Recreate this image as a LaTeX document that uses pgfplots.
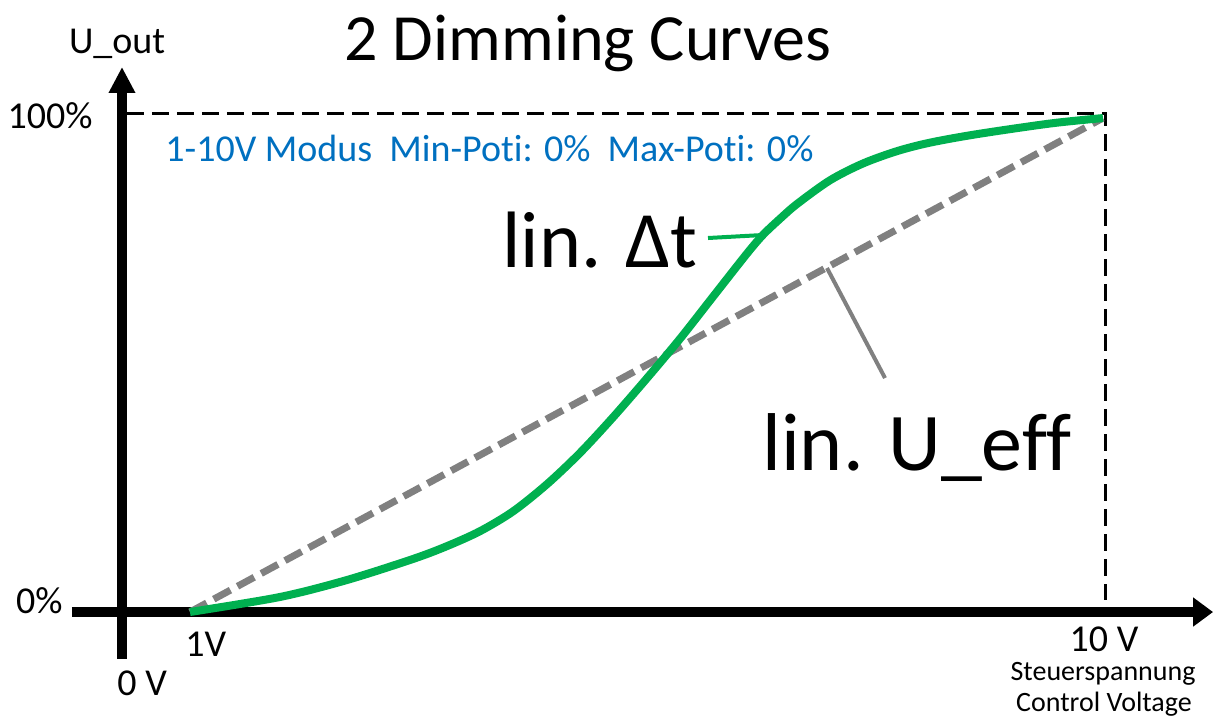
\documentclass[border=0pt]{standalone}
\usepackage{fontspec}
\setmainfont{Carlito}[Ligatures=NoCommon]
\usepackage{pgfplots}
\pgfplotsset{compat=1.18}
\usetikzlibrary{arrows.meta}
\definecolor{dimgreen}{HTML}{00B050}
\definecolor{dimgray}{HTML}{808080}
\definecolor{dimblue}{HTML}{0070C0}
\tikzset{lbl/.style={inner sep=0pt, font=\fontsize{19pt}{22pt}\selectfont}}

\begin{document}
\begin{tikzpicture}
\begin{axis}[
    hide axis,
    scale only axis,
    width=607pt, height=359pt,
    xmin=-0.873, xmax=11.095,
    ymin=-21.46, ymax=123.9,
    clip=false,
]
% axis arrows and the 100% / 10 V guide
\draw[line width=5pt, -{Triangle[length=13pt,width=12.5pt]}]
    (rel axis cs:0.1005,0.0822) -- (rel axis cs:0.1005,0.9067);
\draw[line width=5pt, -{Triangle[length=10pt,width=14pt]}]
    (rel axis cs:0.0593,0.1476) -- (rel axis cs:0.9992,0.1476);
\draw[line width=1.5pt, dash pattern=on 8.5pt off 4pt]
    (rel axis cs:0.1046,0.8426) -- (rel axis cs:0.911,0.8426) -- (rel axis cs:0.911,0.1643);

% lin. U_eff
\addplot[dimgray, line width=3.5pt, dash pattern=on 9.5pt off 4pt] coordinates {
    (1,0) (10,100)
};
% lin. delta t
\addplot[dimgreen, line width=4pt, smooth] coordinates {
    (1.000,0) (1.887,3.04) (2.548,6.48) (3.198,10.73) (3.534,13.34)
    (3.859,16.36) (4.184,20.36) (4.519,25.87) (4.845,32.21) (5.170,39.41)
    (5.505,47.33) (5.830,55.30) (6.156,63.83) (6.491,72.57) (6.649,76.36)
    (6.816,79.60) (6.984,82.60) (7.309,87.40) (7.634,90.80) (7.970,93.30)
    (8.295,95.02) (8.758,96.74) (9.478,98.89) (10.000,100)
};

% leaders
\draw[dimgreen, line width=2pt] (rel axis cs:0.5832,0.6685) -- (rel axis cs:0.6285,0.6727);
\draw[dimgray, line width=2pt] (rel axis cs:0.6812,0.6267) -- (rel axis cs:0.7290,0.4735);

% texts
\node[inner sep=0pt, anchor=base, font=\fontsize{33pt}{40pt}\selectfont]
    at (rel axis cs:0.4843,0.9164) {2 Dimming Curves};
\node[lbl, anchor=base] at (rel axis cs:0.0964,0.9248) {U\_out};
\node[lbl, anchor=base east] at (rel axis cs:0.0766,0.8217) {100\%};
\node[lbl, anchor=base east] at (rel axis cs:0.0519,0.1462) {0\%};
\node[lbl, anchor=base west] at (rel axis cs:0.1524,0.0850) {1V};
\node[lbl, anchor=base west] at (rel axis cs:0.0964,0.0320) {0 V};
\node[lbl, anchor=base] at (rel axis cs:0.9094,0.0933) {10 V};
\node[inner sep=0pt, anchor=base, font=\fontsize{14pt}{17pt}\selectfont]
    at (rel axis cs:0.9086,0.0529) {Steuerspannung};
\node[inner sep=0pt, anchor=base, font=\fontsize{14pt}{17pt}\selectfont]
    at (rel axis cs:0.9094,0.0084) {Control Voltage};
\node[lbl, anchor=base west, text=dimblue] at (rel axis cs:0.1359,0.7744)
    {1-10V Modus\ \ Min-Poti: 0\%\ \ Max-Poti: 0\%};
\node[inner sep=0pt, anchor=base west, font=\fontsize{40pt}{48pt}\selectfont]
    at (rel axis cs:0.4135,0.6281) {lin. Δt};
\node[inner sep=0pt, anchor=base west, font=\fontsize{41pt}{49pt}\selectfont]
    at (rel axis cs:0.6277,0.3454) {lin. U\_eff};
\end{axis}
\pgfresetboundingbox
\path (current axis.south west) rectangle (current axis.north east);
\end{tikzpicture}
\end{document}
